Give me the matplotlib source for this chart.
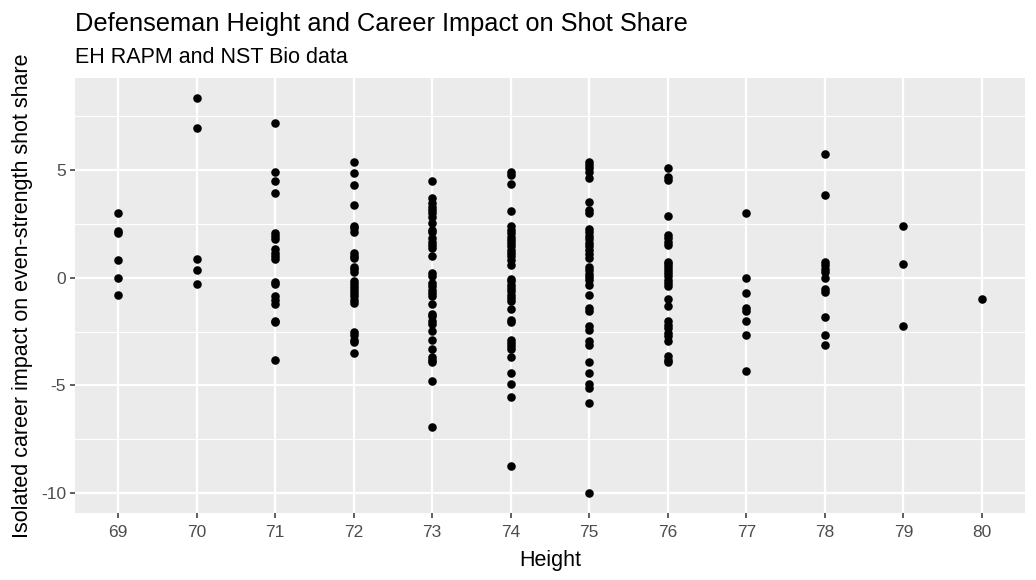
import numpy as np
import matplotlib.pyplot as plt

# career impact values, one list per height (inches)
h69 = [3.02, 2.19, 2.07, 0.80, 0.01, -0.82]
h70 = [8.35, 6.96, 0.89, 0.34, -0.31]
h71 = [7.19, 4.92, 4.49, 3.95, 2.07, 1.94, 1.81, 1.33, 1.17, 1.03, 0.86,
       -0.20, -0.28, -0.86, -1.02, -1.20, -1.99, -2.07, -3.83]
h72 = [5.38, 4.86, 4.32, 3.39, 2.41, 2.30, 2.14, 1.14, 1.03, 0.91, 0.52,
       0.40, 0.25, -0.17, -0.29, -0.42, -0.56, -0.71, -0.87, -1.02, -1.17,
       -2.51, -2.64, -2.87, -2.98, -3.50]
h73 = [4.50, 3.72, 3.46, 3.30, 3.15, 3.00, 2.84, 2.56, 2.22, 2.10, 1.84,
       1.68, 1.53, 1.38, 0.99, 0.22, 0.09, -0.25, -0.40, -0.56, -0.71,
       -0.86, -1.20, -1.67, -1.79, -2.02, -2.13, -2.48, -2.90, -3.29, -3.67,
       -3.80, -3.92, -4.80, -6.93]
h74 = [4.92, 4.77, 4.35, 3.10, 2.38, 2.22, 2.07, 1.91, 1.76, 1.61, 1.45,
       1.30, 1.14, 0.99, 0.83, 0.60, -0.05, -0.17, -0.32, -0.48, -0.63,
       -0.79, -0.94, -1.10, -1.44, -1.94, -2.05, -2.87, -3.02, -3.15, -3.29,
       -3.69, -4.41, -4.91, -5.54, -8.74]
h75 = [5.38, 5.23, 5.08, 4.92, 4.61, 3.53, 3.15, 3.02, 2.25, 2.10, 1.94,
       1.79, 1.61, 1.45, 1.30, 1.11, 0.91, 0.50, 0.34, 0.19, 0.03, -0.12,
       -0.32, -0.79, -1.40, -1.56, -2.25, -2.41, -2.95, -3.10, -3.92, -4.41,
       -4.91, -5.11, -5.83, -9.97]
h76 = [5.08, 4.69, 4.54, 2.87, 1.99, 1.84, 1.68, 1.53, 0.75, 0.65, 0.52,
       0.37, 0.22, 0.06, -0.09, -0.25, -0.40, -0.97, -1.33, -2.02, -2.18,
       -2.33, -2.56, -2.72, -2.92, -3.64, -3.80, -3.92]
h77 = [3.02, 0.01, -0.73, -1.40, -1.56, -2.02, -2.67, -4.34]
h78 = [5.75, 3.86, 0.73, 0.57, 0.42, 0.26, -0.03, -0.51, -0.66, -1.84,
       -2.67, -3.13]
h79 = [2.38, 0.65, -2.25]
h80 = [-0.97]

columns = {69: h69, 70: h70, 71: h71, 72: h72, 73: h73, 74: h74,
           75: h75, 76: h76, 77: h77, 78: h78, 79: h79, 80: h80}
height = np.concatenate([[h] * len(v) for h, v in columns.items()])
impact = np.concatenate(list(columns.values()))

plt.rcParams['font.family'] = ['Liberation Sans', 'DejaVu Sans']
plt.rcParams['axes.unicode_minus'] = False

fig = plt.figure(figsize=(10.36, 5.8), dpi=100)
ax = fig.add_axes([0.0724, 0.1155, 0.917, 0.75])
ax.set_facecolor('#EBEBEB')
for s in ax.spines.values():
    s.set_visible(False)

ax.set_xlim(68.45, 80.55)
ax.set_ylim(-10.92, 9.27)
ax.set_xticks(range(69, 81))
ax.set_yticks([-10, -5, 0, 5])
ax.set_yticks([-7.5, -2.5, 2.5, 7.5], minor=True)
ax.grid(True, which='major', color='white', linewidth=1.6)
ax.grid(True, which='minor', axis='y', color='white', linewidth=0.8)
ax.set_axisbelow(True)
ax.tick_params(which='major', length=3.5, width=1.1, color='#333333',
               labelcolor='#4D4D4D', labelsize=12.5, pad=3)
ax.tick_params(axis='x', pad=5)
ax.tick_params(which='minor', length=0)

ax.scatter(height, impact, s=38, color='black', linewidths=0, zorder=3)

ax.set_xlabel('Height', fontsize=15.5, labelpad=7)
ax.set_ylabel('Isolated career impact on even-strength shot share',
              fontsize=15.5, labelpad=6)
fig.text(0.0724, 0.946, 'Defenseman Height and Career Impact on Shot Share',
         fontsize=18.3, va='baseline')
fig.text(0.0724, 0.891, 'EH RAPM and NST Bio data', fontsize=15.5,
         va='baseline')

fig.savefig('out.png', dpi=100)
